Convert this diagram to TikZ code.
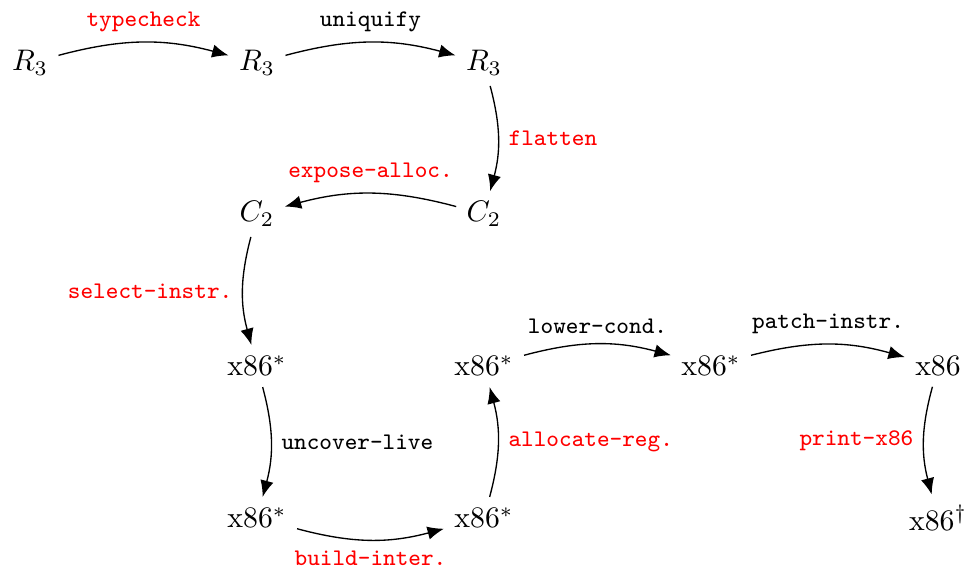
\documentclass[tikz,border=0pt]{standalone}
\usetikzlibrary{arrows.meta}
\begin{document}
\begin{tikzpicture}[x=0.336pt,y=-0.336pt,
  lang/.style={font=\normalsize},
  pass/.style={font=\footnotesize\ttfamily},
  redpass/.style={pass,text=red},
  flow/.style={-{Latex[length=5.5pt,width=4.5pt]},line width=0.45pt}]
\useasboundingbox (0,0) rectangle (972,571);
\node[lang] (r1) at (30,63) {$R_3$};
\node[lang] (r2) at (257,63) {$R_3$};
\node[lang] (r3) at (484,63) {$R_3$};
\node[lang] (c1) at (484,214) {$C_2$};
\node[lang] (c2) at (257,214) {$C_2$};
\node[lang] (x1) at (257,366) {x86$^{*}$};
\node[lang] (x2) at (257,518) {x86$^{*}$};
\node[lang] (x3) at (484,518) {x86$^{*}$};
\node[lang] (x4) at (484,366) {x86$^{*}$};
\node[lang] (x5) at (711,366) {x86$^{*}$};
\node[lang] (x6) at (938,366) {x86};
\node[lang] (x7) at (938,518) {x86$^{\dagger}$};
\draw[flow] (r1) to[bend left=15] node[midway,above,redpass] {typecheck} (r2);
\draw[flow] (r2) to[bend left=15] node[midway,above,pass] {uniquify} (r3);
\draw[flow] (r3) to[bend left=15] node[midway,right,redpass] {flatten} (c1);
\draw[flow] (c1) to[bend right=15] node[midway,above,redpass] {expose-alloc.} (c2);
\draw[flow] (c2) to[bend right=15] node[midway,left,redpass] {select-instr.} (x1);
\draw[flow] (x1) to[bend left=15] node[midway,right,pass] {uncover-live} (x2);
\draw[flow] (x2) to[bend right=15] node[midway,below,redpass] {build-inter.} (x3);
\draw[flow] (x3) to[bend right=15] node[midway,right,redpass] {allocate-reg.} (x4);
\draw[flow] (x4) to[bend left=15] node[midway,above,pass] {lower-cond.} (x5);
\draw[flow] (x5) to[bend left=15] node[midway,above,pass] {patch-instr.} (x6);
\draw[flow] (x6) to[bend right=15] node[midway,left,redpass] {print-x86} (x7);
\end{tikzpicture}
\end{document}
